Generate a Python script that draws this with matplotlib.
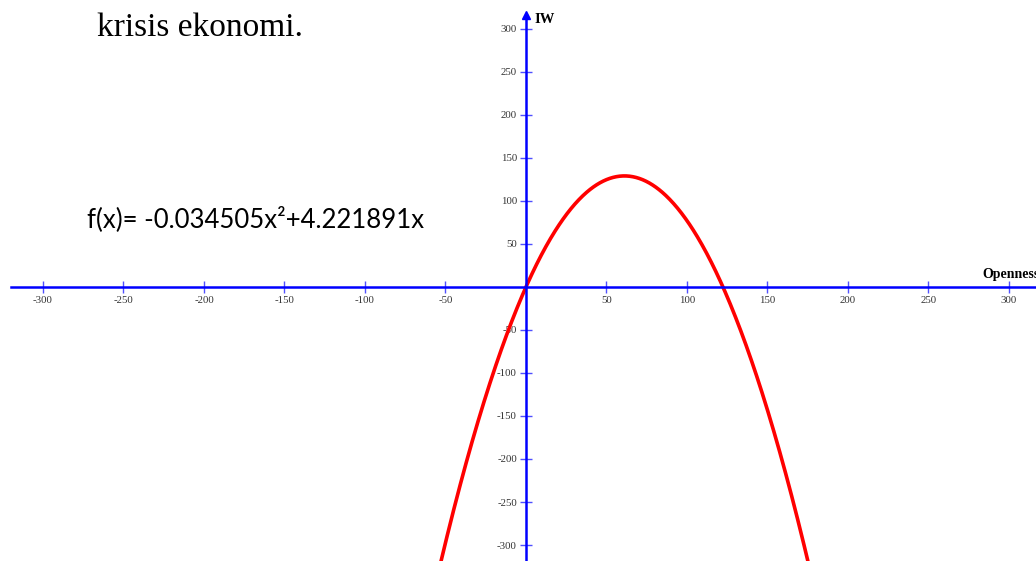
import numpy as np
import matplotlib
matplotlib.use("Agg")
from matplotlib import pyplot as plt

plt.rcParams['axes.unicode_minus'] = False

# ======================model======================
a = -0.034505
b = 4.221891
x_ticks = [-300, -250, -200, -150, -100, -50, 50, 100, 150, 200, 250, 300]
y_ticks = [-300, -250, -200, -150, -100, -50, 50, 100, 150, 200, 250, 300]
x_lim = (-326.7, 316.8)
y_lim = (-318.6, 333.7)

x = np.linspace(-60, 185, 600)
y = a * x**2 + b * x

# ======================figure======================
fig = plt.figure(figsize=(10.36, 5.61), dpi=100)
ax = fig.add_axes([0, 0, 1, 1])
ax.set_xlim(*x_lim)
ax.set_ylim(*y_lim)

blue = '#0000ff'
for side in ['top', 'right']:
    ax.spines[side].set_visible(False)
ax.spines['left'].set_position(('data', 0))
ax.spines['bottom'].set_position(('data', 0))
ax.spines['left'].set_color(blue)
ax.spines['bottom'].set_color(blue)
ax.spines['left'].set_linewidth(1.8)
ax.spines['bottom'].set_linewidth(1.8)
ax.spines['bottom'].set_bounds(-320, x_lim[1])
ax.spines['left'].set_bounds(y_lim[0], 312)

# arrow head on top of the vertical axis
ax.plot([0], [316], marker='^', color=blue, markersize=6, clip_on=False)

ax.set_xticks(x_ticks)
ax.set_yticks(y_ticks)
ax.tick_params(axis='both', direction='inout', length=9, width=1.0,
               color='#5050ff', labelsize=7.8, labelcolor='#333333', pad=2)
for lab in ax.get_xticklabels() + ax.get_yticklabels():
    lab.set_family('Liberation Serif')

ax.plot(x, y, color='red', linewidth=2.6)

ax.text(0.516, 0.966, 'IW', transform=ax.transAxes, family='Liberation Serif',
        fontweight='bold', fontsize=10.5, ha='left', va='center')
ax.text(0.948, 0.511, 'Openness', transform=ax.transAxes, family='Liberation Serif',
        fontweight='bold', fontsize=10.0, ha='left', va='center')

fig.text(0.094, 0.950, 'krisis ekonomi.', family='Liberation Serif', fontsize=24,
         ha='left', va='center')
fig.text(0.084, 0.610, 'f(x)= -0.034505x²+4.221891x', family='Lato', fontsize=18.5,
         ha='left', va='center')

fig.savefig('out.png', dpi=100)
